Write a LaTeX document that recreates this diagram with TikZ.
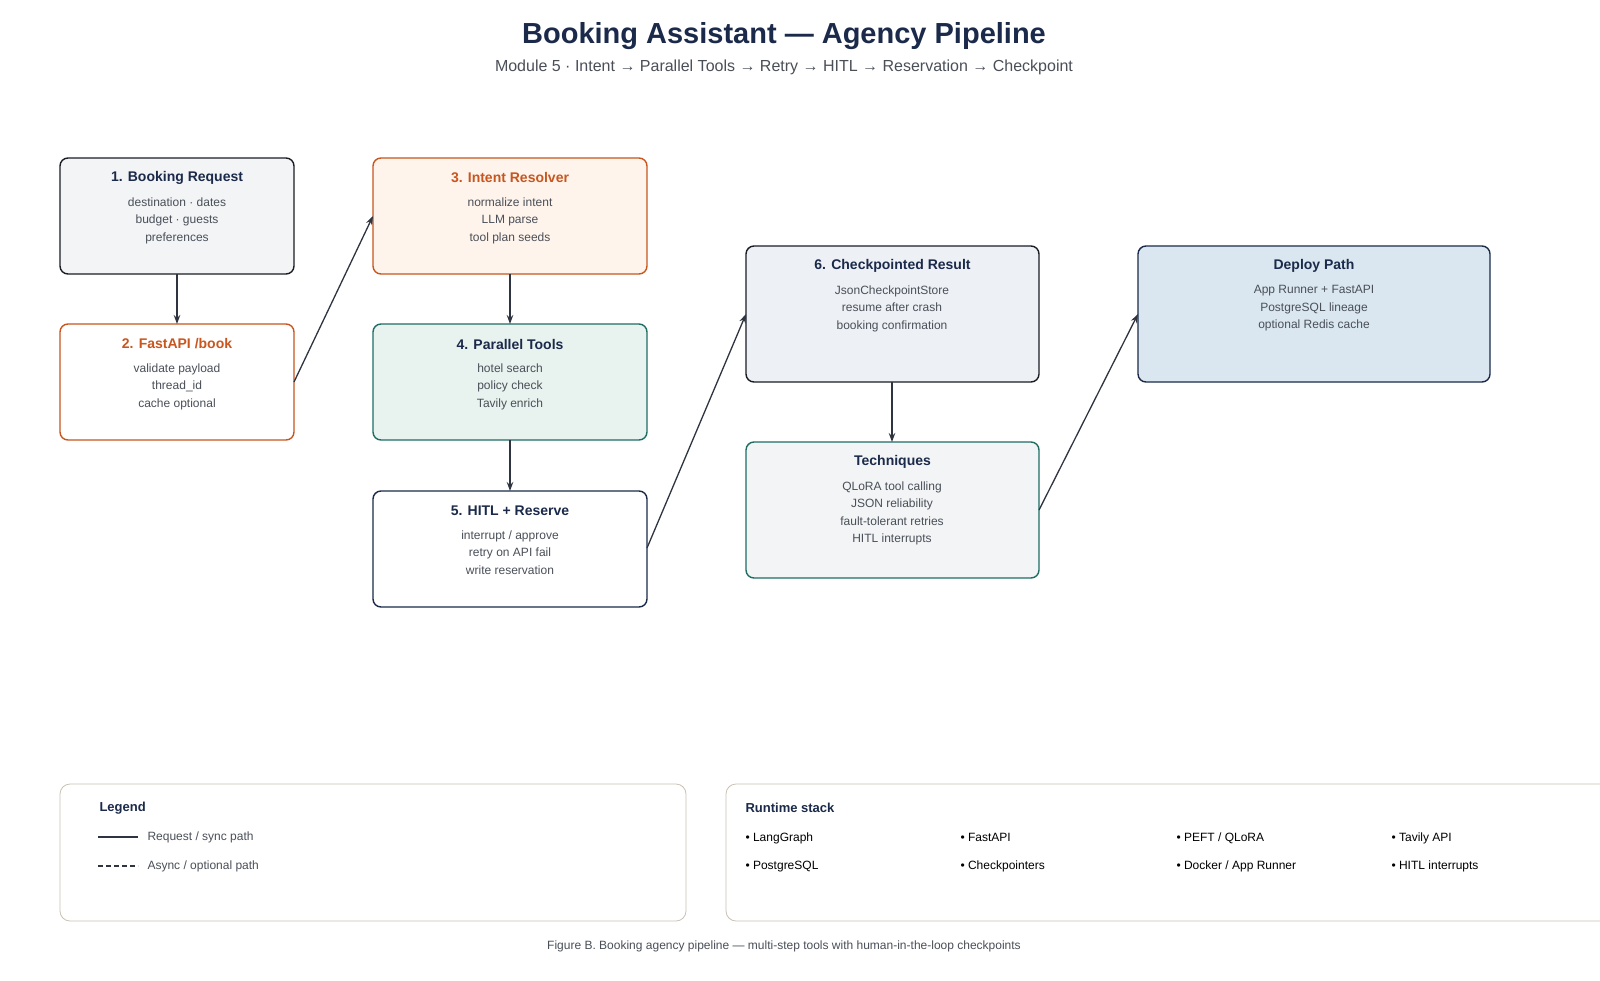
\documentclass[tikz,border=0pt]{standalone}
\usepackage{fontspec}
\setmainfont{Liberation Sans}
\usetikzlibrary{arrows.meta}
\definecolor{navy}{HTML}{1B2A4A}
\definecolor{orng}{HTML}{C8561E}
\definecolor{teal}{HTML}{1E6E64}
\definecolor{txt}{HTML}{4A4F58}
\definecolor{arr}{HTML}{2E3440}
\definecolor{lbord}{HTML}{C9C2B4}
\definecolor{f1}{HTML}{F2F4F6}
\definecolor{f3}{HTML}{FEF4EC}
\definecolor{f4}{HTML}{E8F2EE}
\definecolor{f6}{HTML}{EDF1F5}
\definecolor{f7}{HTML}{F2F4F5}
\definecolor{f8}{HTML}{DAE7F0}
\definecolor{dk}{HTML}{1A1D24}
\begin{document}
\begin{tikzpicture}[x=1pt,y=-1pt,
  box/.style={draw, rounded corners=8pt, line width=1.4pt, inner sep=0pt},
  head/.style={font=\fontsize{14}{16}\selectfont\bfseries, anchor=center},
  body/.style={font=\fontsize{12}{17.5}\selectfont, text=txt, align=center, anchor=north},
  con/.style={draw=arr, line width=1.3pt, -{Stealth[length=9pt,width=6.5pt]}},
  item/.style={font=\fontsize{12}{14}\selectfont, anchor=base west, text=black}]
\useasboundingbox (0,0) rectangle (1600,980);
\clip (0,0) rectangle (1600,980);
\fill[white] (0,0) rectangle (1600,980);
\node[font=\fontsize{29}{34}\selectfont\bfseries, text=navy] (title) at (784,36) {Booking Assistant — Agency Pipeline};
\node[font=\fontsize{16}{18}\selectfont, text=txt] (sub) at (784,67) {Module 5 · Intent → Parallel Tools → Retry → HITL → Reservation → Checkpoint};
% boxes
\newcommand{\mybox}[9]{%
 \path[box, draw=#3, fill=#4] (#5,#6) rectangle (#7,#8);
 \node[head, text=#9] (#1) at ({(#5+#7)/2},#6+20) {#2};
}
\mybox{b1}{1. Booking Request}{dk}{f1}{60}{158}{294}{274}{navy}
\mybox{b2}{2. FastAPI /book}{orng}{white}{60}{324}{294}{440}{orng}
\mybox{b3}{3. Intent Resolver}{orng}{f3}{373}{158}{647}{274}{orng}
\mybox{b4}{4. Parallel Tools}{teal}{f4}{373}{324}{647}{440}{navy}
\mybox{b5}{5. HITL + Reserve}{navy}{white}{373}{491}{647}{607}{navy}
\mybox{b6}{6. Checkpointed Result}{dk}{f6}{746}{246}{1039}{382}{navy}
\mybox{b7}{Techniques}{teal}{f7}{746}{442}{1039}{578}{navy}
\mybox{b8}{Deploy Path}{navy}{f8}{1138}{246}{1490}{382}{navy}
\node[body] (t1) at (177,194) {destination · dates\\budget · guests\\preferences};
\node[body] (t2) at (177,360) {validate payload\\thread\_id\\cache optional};
\node[body] (t3) at (510,194) {normalize intent\\LLM parse\\tool plan seeds};
\node[body] (t4) at (510,360) {hotel search\\policy check\\Tavily enrich};
\node[body] (t5) at (510,527) {interrupt / approve\\retry on API fail\\write reservation};
\node[body] (t6) at (892,282) {JsonCheckpointStore\\resume after crash\\booking confirmation};
\node[body] (t7) at (892,478) {QLoRA tool calling\\JSON reliability\\fault-tolerant retries\\HITL interrupts};
\node[body] (t8) at (1314,282) {App Runner + FastAPI\\PostgreSQL lineage\\optional Redis cache};
% anchor coordinates
\coordinate (b1s) at (177,274); \coordinate (b2n) at (177,324);
\coordinate (b2e) at (294,382); \coordinate (b3w) at (373,216);
\coordinate (b3s) at (510,274); \coordinate (b4n) at (510,324);
\coordinate (b4s) at (510,440); \coordinate (b5n) at (510,491);
\coordinate (b5e) at (647,548); \coordinate (b6w) at (746,314);
\coordinate (b6s) at (892,382); \coordinate (b7n) at (892,442);
\coordinate (b7e) at (1039,510); \coordinate (b8w) at (1138,314);
\draw[con] (b1s) -- (b2n);
\draw[con] (b2e) -- (b3w);
\draw[con] (b3s) -- (b4n);
\draw[con] (b4s) -- (b5n);
\draw[con] (b5e) -- (b6w);
\draw[con] (b6s) -- (b7n);
\draw[con] (b7e) -- (b8w);
% legend
\draw[draw=lbord, rounded corners=10pt, line width=0.8pt] (60,784) rectangle (686,921);
\node[font=\fontsize{13}{15}\selectfont\bfseries, text=navy, anchor=west] (lg) at (96,808) {Legend};
\coordinate (l1a) at (98,837); \coordinate (l1b) at (138,837);
\coordinate (l2a) at (98,866); \coordinate (l2b) at (138,866);
\draw[arr, line width=2.5pt] (l1a) -- (l1b);
\draw[arr, line width=2.8pt, dash pattern=on 5pt off 3pt] (l2a) -- (l2b);
\node[font=\fontsize{12}{14}\selectfont, text=txt, anchor=west] (lt1) at (144,837) {Request / sync path};
\node[font=\fontsize{12}{14}\selectfont, text=txt, anchor=west] (lt2) at (144,866) {Async / optional path};
% runtime
\draw[draw=lbord, rounded corners=10pt, line width=0.8pt] (726,784) rectangle (1630,921);
\node[font=\fontsize{13}{15}\selectfont\bfseries, text=navy, anchor=west] (rs) at (742,808) {Runtime stack};
\node[item] (r1) at (742,841) {• LangGraph};
\node[item] (r2) at (957,841) {• FastAPI};
\node[item] (r3) at (1173,841) {• PEFT / QLoRA};
\node[item] (r4) at (1388,841) {• Tavily API};
\node[item] (r5) at (742,869) {• PostgreSQL};
\node[item] (r6) at (957,869) {• Checkpointers};
\node[item] (r7) at (1173,869) {• Docker / App Runner};
\node[item] (r8) at (1388,869) {• HITL interrupts};
\node[font=\fontsize{12}{14}\selectfont, text=txt] (cap) at (784,946) {Figure B. Booking agency pipeline — multi-step tools with human-in-the-loop checkpoints};
\end{tikzpicture}
\end{document}
